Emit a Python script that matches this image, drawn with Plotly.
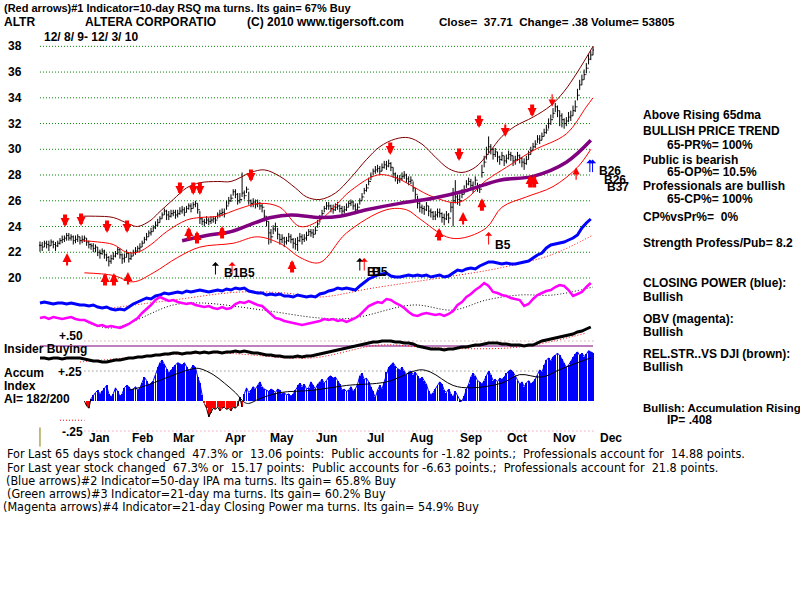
import plotly.graph_objects as go

# ---------------- DATA ----------------
close = [22.54, 22.4, 22.7, 22.6, 22.5, 22.8, 22.6, 22.5, 22.7, 22.9,
         23.0, 23.1, 23.3, 23.1, 23.2, 22.9, 23.0, 23.2, 22.9, 23.0,
         23.1, 22.8, 22.6, 22.5, 22.3, 22.4, 22.0, 21.9, 22.1, 21.8,
         21.6, 21.3, 21.5, 21.7, 21.9, 22.2, 21.8, 21.5, 21.6, 21.9,
         21.5, 21.7, 22.0, 22.1, 22.3, 22.4, 22.7, 23.0, 23.2, 23.5,
         23.6, 23.9, 24.1, 24.3, 24.6, 24.9, 25.2, 24.9, 24.8, 25.0,
         25.1, 24.9, 25.0, 25.2, 25.3, 25.1, 25.4, 25.6, 25.4, 25.7,
         25.8, 25.3, 24.6, 24.4, 24.3, 24.5, 24.4, 24.5, 24.6, 24.5,
         24.9, 25.0, 25.1, 25.0, 25.6, 26.0, 26.2, 26.7, 26.5, 26.0,
         26.1, 26.6, 26.4, 26.9, 26.0, 25.8, 25.9, 25.7, 25.8, 25.6,
         25.5, 24.8, 24.4, 23.5, 23.2, 23.8, 24.0, 23.4, 23.0, 23.1,
         22.8, 22.9, 23.2, 23.0, 22.7, 22.6, 22.9, 23.2, 23.0, 23.1,
         23.3, 23.6, 23.5, 23.4, 23.7, 24.2, 24.6, 25.0, 25.4, 25.6,
         25.6, 25.4, 25.3, 25.5, 25.6, 25.4, 25.2, 25.3, 25.5, 25.8,
         25.9, 25.6, 25.3, 25.5, 26.0, 26.3, 26.8, 27.0, 27.5, 27.9,
         28.3, 28.4, 28.5, 28.3, 28.6, 28.8, 28.7, 28.9, 28.6, 28.1,
         27.8, 27.6, 27.7, 27.9, 28.0, 27.7, 27.5, 27.6, 27.0, 26.5,
         25.8, 25.5, 25.4, 25.3, 25.6, 25.2, 25.1, 24.8, 24.9, 25.1,
         25.0, 24.7, 24.6, 24.9, 24.65, 25.5, 26.0, 26.3, 26.1, 26.0,
         26.5, 26.8, 27.3, 27.5, 27.2, 27.0, 27.6, 27.0, 26.9, 28.2,
         29.0, 29.6, 30.2, 30.0, 29.6, 29.8, 29.4, 29.2, 29.5, 29.1,
         29.3, 29.6, 29.5, 29.1, 29.2, 29.5, 29.3, 29.0, 28.9, 29.2,
         29.6, 29.9, 30.2, 30.4, 30.8, 30.7, 31.0, 31.3, 31.5, 32.0,
         32.3, 32.8, 33.3, 33.0, 32.6, 32.3, 32.0, 32.2, 32.5, 32.6,
         33.0, 33.3, 34.2, 35.0, 35.4, 35.8, 36.3, 37.0, 37.33, 37.71]
# daily bar extent above close / below close, in tenths of a point
bar_up = [3, 4, 2, 3, 4, 2, 3, 3, 2, 2, 3, 2, 2, 4, 2, 4, 3, 2, 3, 3,
          2, 3, 3, 2, 4, 2, 4, 3, 2, 4, 3, 4, 3, 3, 2, 2, 5, 4, 3, 3,
          5, 3, 2, 3, 2, 3, 2, 2, 3, 2, 3, 2, 3, 3, 2, 2, 2, 4, 4, 3,
          2, 4, 3, 3, 3, 4, 2, 2, 4, 2, 2, 5, 6, 3, 3, 3, 3, 3, 2, 3,
          2, 3, 3, 4, 4, 3, 3, 2, 4, 6, 5, 16, 4, 2, 7, 3, 3, 4, 3, 3,
          3, 5, 4, 9, 6, 3, 3, 5, 4, 3, 4, 3, 3, 4, 4, 5, 3, 3, 4, 3,
          3, 2, 3, 4, 3, 3, 3, 3, 2, 3, 3, 3, 4, 3, 3, 3, 4, 3, 3, 2,
          2, 4, 5, 3, 2, 3, 2, 3, 3, 3, 2, 3, 3, 4, 3, 3, 4, 3, 4, 5,
          4, 4, 3, 3, 3, 4, 4, 3, 5, 5, 6, 4, 3, 3, 3, 4, 3, 4, 3, 3,
          4, 4, 4, 3, 4, 4, 10, 13, 4, 5, 4, 4, 3, 3, 5, 5, 3, 4, 4, 6,
          5, 6, 8, 4, 5, 3, 4, 3, 3, 4, 3, 3, 3, 4, 3, 3, 3, 4, 4, 3,
          3, 3, 3, 3, 3, 4, 3, 3, 4, 4, 4, 4, 3, 4, 4, 5, 4, 3, 4, 4,
          4, 5, 5, 4, 4, 4, 4, 4, 3, 3]
bar_dn = [5, 3, 3, 3, 4, 3, 3, 4, 3, 3, 3, 3, 4, 2, 3, 3, 3, 4, 3, 3,
          3, 3, 3, 3, 3, 4, 3, 4, 3, 3, 3, 4, 4, 3, 3, 4, 3, 4, 4, 3,
          3, 3, 3, 3, 3, 3, 3, 3, 3, 3, 3, 3, 3, 3, 3, 3, 3, 4, 3, 3,
          3, 3, 3, 3, 3, 3, 3, 3, 3, 3, 3, 3, 4, 3, 3, 3, 3, 3, 3, 3,
          3, 3, 3, 3, 3, 3, 3, 3, 3, 3, 3, 3, 3, 3, 3, 3, 4, 3, 3, 3,
          4, 4, 4, 9, 5, 4, 4, 4, 4, 4, 4, 3, 4, 3, 4, 4, 8, 4, 4, 3,
          4, 3, 3, 3, 3, 3, 3, 3, 3, 3, 3, 3, 3, 3, 3, 3, 3, 3, 3, 3,
          3, 3, 3, 3, 3, 3, 3, 3, 3, 3, 3, 3, 3, 3, 3, 3, 3, 3, 3, 3,
          3, 3, 3, 3, 3, 3, 3, 3, 3, 4, 4, 4, 4, 4, 4, 4, 4, 3, 4, 4,
          3, 4, 5, 4, 4, 4, 20, 5, 4, 4, 3, 3, 3, 3, 3, 4, 4, 3, 3, 4,
          4, 4, 5, 4, 4, 4, 4, 4, 4, 4, 4, 4, 4, 4, 4, 4, 4, 4, 5, 4,
          4, 3, 3, 3, 3, 3, 3, 3, 3, 4, 4, 4, 4, 5, 8, 6, 4, 4, 4, 4,
          4, 4, 4, 4, 4, 4, 4, 4, 4, 4]

# month labels (trading-day index of month start)
month_names = ["Jan", "Feb", "Mar", "Apr", "May", "Jun", "Jul", "Aug", "Sep", "Oct", "Nov", "Dec"]
month_start = [17, 36, 55, 78, 99, 119, 141, 162, 184, 205, 226, 247]
price_ticks = [20, 22, 24, 26, 28, 30, 32, 34, 36, 38]

# bands
upper_idx = [18, 25, 33, 40, 44, 50, 53, 60, 66, 72, 80, 86, 95, 101, 108, 115, 120, 126, 133, 140, 147, 153, 160, 166, 172, 178, 184, 190, 196, 202, 208, 214, 222, 230, 236, 242, 249]
upper_val = [24.8, 24.8, 24.7, 24.2, 24.0, 24.5, 25.0, 26.1, 27.0, 27.4, 27.5, 27.5, 28.2, 28.4, 27.9, 27.0, 26.3, 26.1, 26.6, 27.8, 29.2, 30.2, 30.8, 30.9, 30.4, 29.4, 28.5, 28.2, 28.6, 29.7, 31.0, 31.8, 32.5, 33.4, 34.5, 36.0, 38.0]
mid_idx = [19, 26, 33, 39, 44, 50, 57, 66, 72, 80, 90, 99, 108, 117, 126, 140, 152, 160, 177, 189, 201, 210, 222, 237, 246, 249]
mid_val = [22.9, 22.8, 22.6, 22.0, 22.0, 22.6, 23.6, 24.5, 24.7, 24.8, 25.4, 25.8, 25.5, 24.0, 24.5, 26.8, 28.0, 27.8, 26.3, 25.9, 27.6, 28.6, 29.9, 31.2, 33.3, 34.0]
lower_idx = [20, 33, 42, 51, 62, 72, 87, 98, 109, 117, 126, 138, 156, 165, 171, 183, 190, 201, 208, 219, 231, 242, 248]
lower_val = [20.4, 20.2, 19.7, 20.4, 21.6, 22.4, 22.7, 23.2, 22.6, 21.6, 21.2, 23.5, 25.3, 25.3, 24.6, 23.2, 23.1, 23.9, 25.5, 26.3, 27.1, 28.6, 30.0]
ma65_idx = [64, 75, 86, 97, 104, 113, 126, 135, 147, 162, 177, 192, 207, 222, 237, 248]
ma65_val = [22.9, 23.3, 23.6, 24.3, 24.7, 24.9, 24.7, 24.8, 25.3, 25.8, 26.2, 26.8, 27.6, 27.9, 29.0, 30.7]

# Closing Power (blue), OBV (magenta), Rel. Strength (black): every second day, chart units
cp_val = [7, 8, 7, 6, 7, 7, 6, 7, 6, 5, 5, 4, 5, 3, 2, 3, 1, 0, 1, 0,
          3, 6, 8, 10, 12, 11, 14, 15, 17, 16, 17, 18, 17, 19, 18, 19, 20, 19, 18, 19,
          20, 19, 21, 20, 22, 21, 22, 19, 18, 17, 17, 15, 16, 15, 16, 14, 14, 13, 15, 14,
          13, 14, 13, 16, 17, 19, 20, 22, 21, 22, 21, 20, 24, 28, 31, 33, 35, 36, 37, 34,
          33, 33, 34, 35, 34, 35, 34, 35, 33, 34, 35, 33, 34, 37, 40, 39, 41, 42, 41, 44,
          46, 48, 48, 47, 46, 47, 46, 46, 47, 48, 49, 52, 55, 57, 62, 65, 66, 67, 68, 70,
          72, 75, 82, 87, 91]
obv_val = [12, 13, 11, 13, 12, 11, 12, 13, 11, 10, 10, 8, 6, 4, 5, 3, 4, 3, 2, 4,
           6, 9, 12, 17, 21, 25, 30, 33, 31, 29, 30, 28, 27, 26, 27, 25, 24, 23, 24, 22,
           21, 23, 21, 22, 26, 28, 27, 29, 27, 25, 24, 20, 16, 12, 11, 9, 8, 7, 6, 5,
           6, 7, 8, 9, 11, 10, 11, 9, 10, 8, 10, 12, 15, 20, 24, 26, 28, 27, 31, 30,
           27, 25, 22, 18, 15, 14, 16, 17, 16, 15, 16, 14, 16, 19, 25, 28, 33, 36, 40, 43,
           47, 44, 38, 37, 35, 34, 32, 31, 30, 24, 26, 31, 35, 37, 39, 40, 43, 45, 44, 40,
           34, 36, 38, 43, 47]
rs_val = [12, 12, 11, 12, 12, 11, 12, 12, 12, 12, 11, 10, 9, 9, 8, 8, 9, 10, 10, 11,
          12, 12, 13, 13, 14, 14, 15, 15, 16, 16, 17, 17, 16, 17, 17, 18, 17, 18, 17, 18,
          18, 17, 18, 18, 19, 18, 19, 18, 17, 17, 16, 15, 15, 14, 14, 13, 13, 13, 14, 13,
          14, 14, 15, 16, 17, 18, 19, 20, 21, 22, 23, 24, 25, 26, 27, 28, 28, 29, 29, 29,
          28, 28, 27, 27, 26, 24, 23, 22, 21, 21, 21, 20, 21, 21, 22, 23, 23, 24, 25, 25,
          26, 27, 27, 27, 26, 26, 25, 25, 25, 24, 25, 25, 27, 29, 30, 31, 32, 33, 34, 35,
          36, 38, 39, 41, 43]
cp_ma_idx = [32, 60, 90, 110, 126, 150, 183, 207, 230, 249]
cp_ma_val = [2, 10, 18, 17, 13, 22, 33, 42, 55, 75]
obv_ma_idx = [19, 32, 60, 73, 100, 126, 141, 168, 186, 201, 216, 231, 249]
obv_ma_val = [10, 2, 25, 27, 20, 12, 12, 25, 20, 30, 35, 35, 43]
rs_ma_idx = [18, 78, 122, 153, 178, 216, 246]
rs_ma_val = [8, 17, 12, 25, 22, 23, 37]
insider_level = 24

# Accumulation Index (from day 20)
ai_start = 20
ai_val = [0.0, -0.04, -0.06, 0.02, 0.05, 0.07, 0.09, 0.06, 0.08, 0.11,
          0.13, 0.06, 0.03, 0.06, 0.11, 0.08, 0.04, 0.06, 0.11, 0.13,
          0.12, 0.09, 0.10, 0.12, 0.09, 0.11, 0.15, 0.20, 0.17, 0.13,
          0.15, 0.17, 0.22, 0.28, 0.32, 0.34, 0.31, 0.27, 0.23, 0.26,
          0.28, 0.30, 0.32, 0.31, 0.30, 0.32, 0.28, 0.25, 0.27, 0.30,
          0.28, 0.20, 0.15, 0.05, -0.02, -0.06, -0.13, -0.10, -0.06, -0.07,
          -0.05, -0.08, -0.06, -0.05, -0.07, -0.06, -0.08, -0.05, -0.06, -0.04,
          0.03, -0.05, 0.06, 0.11, 0.07, 0.09, 0.12, 0.10, 0.13, 0.16,
          0.12, 0.10, 0.09, 0.08, 0.10, 0.09, 0.07, 0.10, 0.09, 0.06,
          0.07, 0.05, 0.06, 0.04, 0.06, 0.09, 0.13, 0.15, 0.12, 0.14,
          0.10, 0.11, 0.16, 0.13, 0.10, 0.14, 0.16, 0.18, 0.15, 0.17,
          0.20, 0.21, 0.19, 0.20, 0.17, 0.14, 0.09, 0.10, 0.08, 0.09,
          0.12, 0.08, 0.10, 0.14, 0.21, 0.23, 0.18, 0.19, 0.16, 0.12,
          0.08, 0.03, 0.09, 0.13, 0.10, 0.16, 0.24, 0.28, 0.30, 0.32,
          0.29, 0.27, 0.26, 0.28, 0.25, 0.22, 0.24, 0.25, 0.22, 0.24,
          0.21, 0.18, 0.20, 0.17, 0.14, 0.08, 0.05, 0.07, 0.10, 0.13,
          0.16, 0.14, 0.09, 0.07, 0.10, 0.06, 0.03, 0.08, 0.05, 0.01,
          0.00, 0.04, 0.10, 0.14, 0.20, 0.23, 0.21, 0.17, 0.16, 0.14,
          0.17, 0.21, 0.25, 0.22, 0.17, 0.18, 0.16, 0.19, 0.18, 0.20,
          0.23, 0.25, 0.26, 0.24, 0.21, 0.17, 0.14, 0.16, 0.12, 0.15,
          0.17, 0.14, 0.16, 0.18, 0.22, 0.26, 0.24, 0.30, 0.34, 0.36,
          0.33, 0.37, 0.38, 0.40, 0.38, 0.35, 0.32, 0.28, 0.30, 0.33,
          0.37, 0.39, 0.41, 0.38, 0.40, 0.37, 0.39, 0.42, 0.41, 0.40]
ai_ma_idx = [40, 48, 55, 62, 69, 72, 78, 83, 88, 92, 94, 99, 108, 123, 138, 153, 158, 171, 176, 186, 194, 208, 216, 226, 235, 248]
ai_ma_val = [0.09, 0.13, 0.18, 0.23, 0.27, 0.27, 0.22, 0.15, 0.07, -0.01, -0.02, 0.02, 0.07, 0.09, 0.13, 0.15, 0.17, 0.26, 0.24, 0.13, 0.11, 0.15, 0.22, 0.20, 0.27, 0.36]
ai_levels = [0.5, 0.25, -0.25]

# signal arrows: (day index, price at arrow tip, style)
sell_idx = [11.3, 18.5, 30.2, 39.2, 63, 69, 72, 95, 157.7, 188.7, 197.7, 209.5, 221.6, 230.6]
sell_px = [23.96, 24.04, 23.5, 23.5, 26.45, 26.45, 26.45, 27.46, 29.56, 29.1, 31.65, 30.96, 32.5, 33.3]
sell_sty = ["s", "s", "s", "s", "s", "s", "s", "s", "s", "s", "s", "h", "s", "t"]
buy_idx = [12.2, 29.3, 33.3, 39.6, 67, 70.7, 82, 113.5, 179.7, 190.5, 199, 220.7, 222.5, 241.4]
buy_px = [21.94, 20.39, 20.39, 20.47, 23.96, 23.65, 24.04, 21.4, 23.88, 25.13, 26.2, 28.0, 28.0, 28.6]
buy_sty = ["h", "s", "s", "h", "s", "s", "s", "s", "s", "h", "s", "s", "s", "t"]
sig_idx = [79, 86.5, 144, 146, 202, 247.6, 248.8]
sig_px = [21.24, 21.24, 21.55, 21.55, 23.57, 29.2, 29.2]
sig_col = ["black", "red", "black", "red", "red", "blue", "blue"]
sig_lbl_idx = [82, 146.5, 148.5, 204, 251, 253, 254.5]
sig_lbl_px = [20.39, 20.45, 20.45, 22.56, 28.31, 27.6, 27.07]
sig_lbl = ["B1B5", "B1", "B5", "B5", "B26", "B26", "B37"]

# ---------------- FIGURE ----------------
N = len(close)
idx = list(range(N))
high = [c + u / 10 for c, u in zip(close, bar_up)]
low = [c - d / 10 for c, d in zip(close, bar_dn)]
opn = [close[0]] + close[:-1]
even_idx = idx[::2]
ai_idx = list(range(ai_start, ai_start + len(ai_val)))

W, H = 800, 600
def py(ypx):
    return 1 - ypx / H
def pxx(xpx):
    return xpx / W

FONT = "Liberation Sans, Arial, sans-serif"
NARROW = "Liberation Sans Narrow, Arial Narrow, DejaVu Sans Condensed, sans-serif"

fig = go.Figure()

# price bands
fig.add_trace(go.Scatter(x=upper_idx, y=upper_val, mode="lines", line=dict(color="#800000", width=1, shape="spline")))
fig.add_trace(go.Scatter(x=mid_idx, y=mid_val, mode="lines", line=dict(color="#ff0000", width=1, shape="spline")))
fig.add_trace(go.Scatter(x=lower_idx, y=lower_val, mode="lines", line=dict(color="#ff0000", width=1, shape="spline")))
fig.add_trace(go.Scatter(x=ma65_idx, y=ma65_val, mode="lines", line=dict(color="#800080", width=3.5, shape="spline")))

# price bars
fig.add_trace(go.Ohlc(x=idx, open=opn, high=high, low=low, close=close,
                      increasing=dict(line=dict(color="black", width=1)),
                      decreasing=dict(line=dict(color="black", width=1)),
                      tickwidth=0.45))

# closing power
fig.add_trace(go.Scatter(x=cp_ma_idx, y=cp_ma_val, mode="lines", yaxis="y2",
                         line=dict(color="#ff0000", width=1, dash="1px,2px", shape="spline")))
fig.add_trace(go.Scatter(x=even_idx, y=cp_val, mode="lines", yaxis="y2", line=dict(color="#0000ff", width=3)))
# OBV
fig.add_trace(go.Scatter(x=obv_ma_idx, y=obv_ma_val, mode="lines", yaxis="y3",
                         line=dict(color="black", width=1, dash="1px,2px", shape="spline")))
fig.add_trace(go.Scatter(x=even_idx, y=obv_val, mode="lines", yaxis="y3", line=dict(color="#ff00ff", width=2.5)))
# insider + relative strength
fig.add_trace(go.Scatter(x=[0, N - 1], y=[insider_level, insider_level], mode="lines", yaxis="y4",
                         line=dict(color="#800080", width=1.2)))
fig.add_trace(go.Scatter(x=rs_ma_idx, y=rs_ma_val, mode="lines", yaxis="y4",
                         line=dict(color="#ff0000", width=1, dash="1px,2px", shape="spline")))
fig.add_trace(go.Scatter(x=even_idx, y=rs_val, mode="lines", yaxis="y4", line=dict(color="black", width=3)))

# accumulation index
ai_cols = ["#0000ff" if v >= 0 else "#ff0000" for v in ai_val]
fig.add_trace(go.Bar(x=ai_idx, y=ai_val, width=0.42, marker=dict(color=ai_cols, line=dict(width=0)), yaxis="y5"))
pos_line = [v if v >= 0 else None for v in ai_val]
neg_line = [v if v <= 0.03 else None for v in ai_val]
fig.add_trace(go.Scatter(x=ai_idx, y=pos_line, mode="lines", yaxis="y5", line=dict(color="#0000ff", width=1)))
fig.add_trace(go.Scatter(x=ai_idx, y=neg_line, mode="lines", yaxis="y5", line=dict(color="#000000", width=1)))
fig.add_trace(go.Scatter(x=ai_ma_idx, y=ai_ma_val, mode="lines", yaxis="y5",
                         line=dict(color="black", width=1, shape="spline")))

shapes = []
for t in price_ticks:
    shapes.append(dict(type="line", xref="x", yref="y", x0=0, x1=248, y0=t, y1=t,
                       line=dict(color="#008000", width=1, dash="1px,2px"), layer="below"))
ai_level_cols = ["#c08080", "#606060", "#e080a0"]
for lv, cl in zip(ai_levels, ai_level_cols):
    shapes.append(dict(type="line", xref="x", yref="y5", x0=20, x1=250, y0=lv, y1=lv,
                       line=dict(color=cl, width=1, dash="1px,3px"), layer="below"))
shapes.append(dict(type="line", xref="x", yref="y5", x0=9, x1=20, y0=-0.16, y1=-0.16,
                   line=dict(color="#ff0000", width=1, dash="1px,2px")))
shapes.append(dict(type="line", xref="x", yref="y5", x0=0, x1=0, y0=-0.22, y1=-0.38,
                   line=dict(color="#808000", width=1)))

ann = []
def txt(s, x, y, size=12, bold=True, family=FONT, xanchor="left", **kw):
    ann.append(dict(text=s, x=x, y=y, showarrow=False, xanchor=xanchor, yanchor="middle",
                    font=dict(family=family, size=size, color="black", weight="bold" if bold else "normal"),
                    **kw))

# header
txt("(Red arrows)#1 Indicator=10-day RSQ ma turns. Its gain= 67% Buy", pxx(2), py(8), size=11, xref="paper", yref="paper")
txt("ALTR", pxx(2), py(22), xref="paper", yref="paper")
txt("ALTERA CORPORATIO", pxx(83), py(22), xref="paper", yref="paper")
txt("(C) 2010 www.tigersoft.com", pxx(245), py(22), xref="paper", yref="paper")
txt("Close=  37.71  Change= .38 Volume= 53805", pxx(437), py(22), size=11.6, xref="paper", yref="paper")
txt("12/ 8/ 9- 12/ 3/ 10", pxx(42), py(37), xref="paper", yref="paper")

for t in price_ticks:
    txt(str(t), pxx(6), t, xref="paper", yref="y")
for m, s in zip(month_names, month_start):
    txt(m, s + 10, py(438), xanchor="center", xref="x", yref="paper")

right = [("Above Rising 65dma", 641, 115), ("BULLISH PRICE TREND", 641, 131), ("65-PR%= 100%", 665, 145),
         ("Public is bearish", 641, 160), ("65-OP%= 10.5%", 665, 172), ("Professionals are bullish", 641, 186),
         ("65-CP%= 100%", 665, 199), ("CP%vsPr%=  0%", 641, 217), ("Strength Profess/Pub= 8.2", 641, 243),
         ("CLOSING POWER (blue):", 641, 283), ("Bullish", 641, 297), ("OBV (magenta):", 641, 319),
         ("Bullish", 641, 332), ("REL.STR..VS DJI (brown):", 641, 354), ("Bullish", 641, 367),
         ("Bullish: Accumulation Rising", 641, 408), ("IP= .408", 665, 420)]
for s, x, y in right:
    txt(s, pxx(x), py(y), size=11.4 if len(s) > 26 else 12, xref="paper", yref="paper")

left = [("Insider Buying", 2, 349), ("+.50", 57, 336), ("Accum", 2, 373), ("Index", 2, 386),
        ("AI= 182/200", 2, 399), ("+.25", 56, 372), ("-.25", 60, 432)]
for s, x, y in left:
    txt(s, pxx(x), py(y), xref="paper", yref="paper")

bottom = [("For Last 65 days stock changed  47.3% or  13.06 points:  Public accounts for -1.82 points.;  Professionals account for  14.88 points.", 5, 453),
          ("For Last year stock changed  67.3% or  15.17 points:  Public accounts for -6.63 points.;  Professionals account for  21.8 points.", 5, 467),
          ("(Blue arrows)#2 Indicator=50-day IPA ma turns. Its gain= 65.8% Buy", 4, 480),
          ("(Green arrows)#3 Indicator=21-day ma turns. Its gain= 60.2% Buy", 5, 493),
          ("(Magenta arrows)#4 Indicator=21-day Closing Power ma turns. Its gain= 54.9% Buy", 1, 506)]
for s, x, y in bottom:
    txt(s, pxx(x), py(y), size=12.5, bold=False, family=NARROW, xref="paper", yref="paper")

# arrows
sty_w = {"s": 4, "h": 2, "t": 1.2}
sty_s = {"s": 0.45, "h": 0.9, "t": 1.2}
for i, p, s in zip(sell_idx, sell_px, sell_sty):
    ann.append(dict(x=i, y=p, xref="x", yref="y", ax=0, ay=-14, text="", showarrow=True,
                    arrowhead=2, arrowsize=sty_s[s], arrowwidth=sty_w[s], arrowcolor="#ff0000"))
for i, p, s in zip(buy_idx, buy_px, buy_sty):
    ann.append(dict(x=i, y=p, xref="x", yref="y", ax=0, ay=14, text="", showarrow=True,
                    arrowhead=2, arrowsize=sty_s[s], arrowwidth=sty_w[s], arrowcolor="#ff0000"))
for i, p, c in zip(sig_idx, sig_px, sig_col):
    ann.append(dict(x=i, y=p, xref="x", yref="y", ax=0, ay=14, text="", showarrow=True,
                    arrowhead=1, arrowsize=1.2, arrowwidth=1, arrowcolor=c))
for i, p, s in zip(sig_lbl_idx, sig_lbl_px, sig_lbl):
    txt(s, i, p, size=12, xref="x", yref="y")

hidden = dict(visible=False, fixedrange=True)
fig.update_layout(
    width=W, height=H, margin=dict(l=0, r=0, t=0, b=0),
    paper_bgcolor="white", plot_bgcolor="white", showlegend=False,
    xaxis=dict(range=[-18.0, 342.2], domain=[0, 1], rangeslider=dict(visible=False), **hidden),
    yaxis=dict(range=[-5.02, 41.6], domain=[0, 1], **hidden),
    yaxis2=dict(range=[-290, 310], overlaying="y", **hidden),
    yaxis3=dict(range=[-270, 330], overlaying="y", **hidden),
    yaxis4=dict(range=[-230, 370], overlaying="y", **hidden),
    yaxis5=dict(range=[-1.658, 3.342], overlaying="y", **hidden),
    shapes=shapes, annotations=ann, bargap=0,
)

fig.write_html("out.html")
